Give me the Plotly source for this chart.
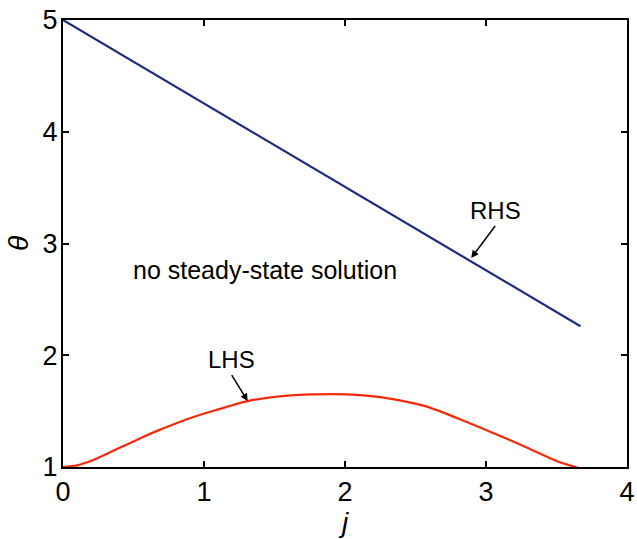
import plotly.graph_objects as go

rhs_j = [0.0, 3.67]
rhs_theta = [5.0, 2.26]

lhs_j = [0.0, 0.10, 0.21, 0.33, 0.45, 0.56, 0.68, 0.80, 0.92, 1.02, 1.31, 1.55, 1.78,
         2.02, 2.25, 2.37, 2.58, 2.81, 3.05, 3.28, 3.51, 3.66]
lhs_theta = [1.0, 1.015, 1.06, 1.13, 1.20, 1.265, 1.33, 1.39, 1.445, 1.485, 1.59, 1.635, 1.65,
             1.65, 1.625, 1.60, 1.54, 1.43, 1.305, 1.18, 1.05, 0.99]

x_ticks = [0, 1, 2, 3, 4]
y_ticks = [1, 2, 3, 4, 5]

FONT = "Liberation Sans, Arial, sans-serif"

fig = go.Figure()
fig.add_trace(go.Scatter(x=rhs_j, y=rhs_theta, mode="lines",
                         line=dict(color="#1c2a80", width=2.2), showlegend=False))
fig.add_trace(go.Scatter(x=lhs_j, y=lhs_theta, mode="lines", line_shape="spline",
                         line=dict(color="#f52a0a", width=2.2, smoothing=0.8),
                         showlegend=False))

fig.add_annotation(x=2.895, y=2.87, ax=24, ay=-32, text="RHS",
                   showarrow=True, arrowhead=2, arrowsize=1, arrowwidth=1.5,
                   arrowcolor="black", xanchor="center", yanchor="bottom",
                   font=dict(family=FONT, size=24, color="black"))
fig.add_annotation(x=1.31, y=1.59, ax=-16, ay=-26, text="LHS",
                   showarrow=True, arrowhead=2, arrowsize=1, arrowwidth=1.5,
                   arrowcolor="black", xanchor="center", yanchor="bottom",
                   font=dict(family=FONT, size=24, color="black"))
fig.add_annotation(x=1.43, y=2.76, text="no steady-state solution", showarrow=False,
                   font=dict(family=FONT, size=25, color="black"))

axis_common = dict(showline=True, linecolor="black", linewidth=2, mirror="ticks",
                   ticks="inside", ticklen=6, tickwidth=2, tickcolor="black",
                   showgrid=False, zeroline=False, ticklabeloverflow="allow",
                   automargin=False,
                   tickfont=dict(family=FONT, size=27, color="black"))

fig.update_xaxes(range=[0, 4], tickvals=x_ticks, **axis_common,
                 title=dict(text="<i>j</i>", font=dict(family=FONT, size=28, color="black"),
                            standoff=0))
fig.update_yaxes(range=[1, 5], tickvals=y_ticks, **axis_common, ticklabelstandoff=-2,
                 title=dict(text="<i>θ</i>", font=dict(family=FONT, size=28, color="black"),
                            standoff=6))

fig.update_layout(width=637, height=539, margin=dict(l=63, r=10, t=20, b=72),
                  plot_bgcolor="white", paper_bgcolor="white")

fig.write_html("out.html")
